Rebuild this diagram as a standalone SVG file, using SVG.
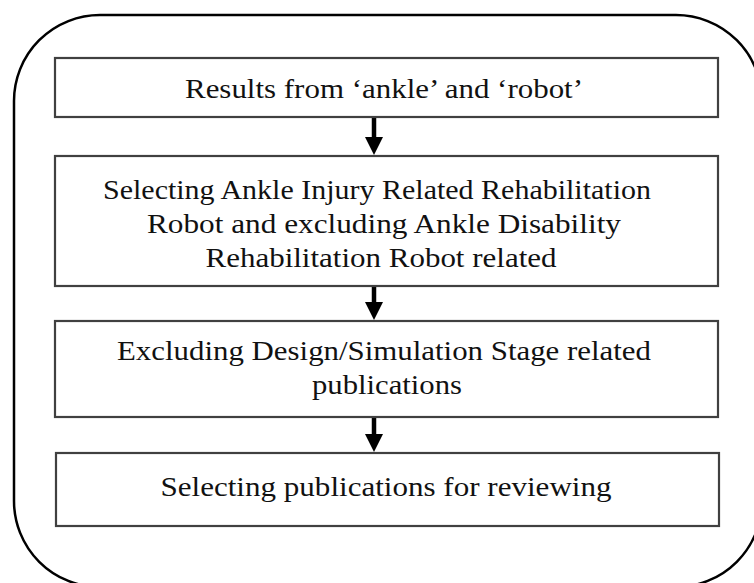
<svg xmlns="http://www.w3.org/2000/svg" width="754" height="583" viewBox="0 0 754 583">
<style>
.box{fill:#fff;stroke:#404040;stroke-width:2.2}
.t{font-family:"Liberation Serif","Times New Roman",serif;font-size:27px;fill:#111;text-anchor:middle}
.shaft{stroke:#000;stroke-width:4.5}
.head{fill:#000}
</style>
<rect width="754" height="583" fill="#fff"/>
<rect id="frame" x="14" y="15" width="748" height="572" rx="86" ry="86" fill="none" stroke="#000" stroke-width="2.5"/>
<g id="connectors">
<line class="shaft" x1="374" y1="117" x2="374" y2="138"/>
<path class="head" d="M365,137 L383,137 L374,155 Z"/>
<line class="shaft" x1="374" y1="286" x2="374" y2="303"/>
<path class="head" d="M365,302 L383,302 L374,320 Z"/>
<line class="shaft" x1="374" y1="417" x2="374" y2="435"/>
<path class="head" d="M365,434 L383,434 L374,452 Z"/>
</g>
<g id="n1">
<rect class="box" x="55" y="58" width="663" height="59"/>
<text class="t" x="384" y="98" textLength="398" lengthAdjust="spacingAndGlyphs">Results from ‘ankle’ and ‘robot’</text>
</g>
<g id="n2">
<rect class="box" x="55" y="156" width="663" height="130"/>
<text class="t" x="377" y="199" textLength="548" lengthAdjust="spacingAndGlyphs">Selecting Ankle Injury Related Rehabilitation</text>
<text class="t" x="384" y="233" textLength="474" lengthAdjust="spacingAndGlyphs">Robot and excluding Ankle Disability</text>
<text class="t" x="381" y="267" textLength="351" lengthAdjust="spacingAndGlyphs">Rehabilitation Robot related</text>
</g>
<g id="n3">
<rect class="box" x="55" y="321" width="663" height="96"/>
<text class="t" x="384" y="360" textLength="534" lengthAdjust="spacingAndGlyphs">Excluding Design/Simulation Stage related</text>
<text class="t" x="387" y="394" textLength="150" lengthAdjust="spacingAndGlyphs">publications</text>
</g>
<g id="n4">
<rect class="box" x="56" y="453" width="663" height="73"/>
<text class="t" x="386" y="496" textLength="451" lengthAdjust="spacingAndGlyphs">Selecting publications for reviewing</text>
</g>
</svg>
